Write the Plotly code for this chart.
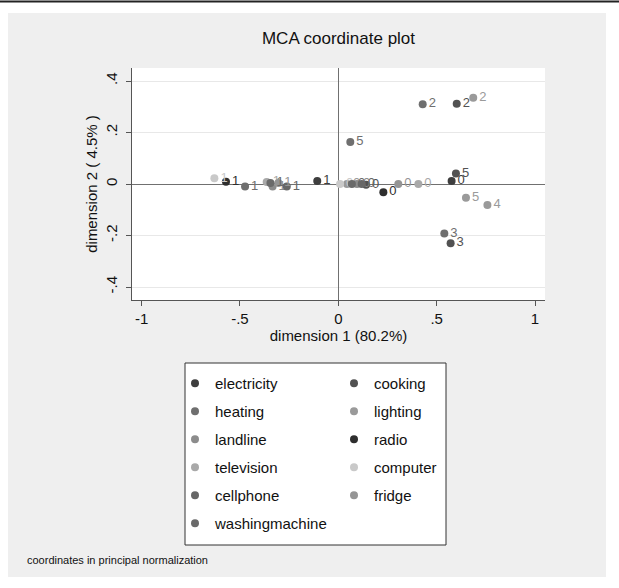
import plotly.graph_objects as go

# MCA category coordinates (principal normalization)
variables = ["electricity", "cooking", "heating", "lighting", "landline", "radio",
             "television", "computer", "cellphone", "fridge", "washingmachine"]
point_var = ["electricity", "electricity",
             "cooking", "cooking", "cooking", "cooking",
             "heating", "heating", "heating", "heating",
             "lighting", "lighting", "lighting", "lighting",
             "landline", "landline",
             "radio", "radio",
             "television", "television",
             "computer", "computer",
             "cellphone", "cellphone",
             "fridge", "fridge",
             "washingmachine", "washingmachine"]
point_cat = ["0", "1",
             "0", "2", "3", "5",
             "1", "2", "3", "5",
             "0", "2", "4", "5",
             "0", "1",
             "0", "1",
             "0", "1",
             "0", "1",
             "0", "1",
             "0", "1",
             "0", "1"]
dim1 = [0.576, -0.107,
        0.141, 0.602, 0.571, 0.598,
        -0.474, 0.429, 0.539, 0.061,
        0.044, 0.686, 0.758, 0.649,
        0.095, -0.334,
        0.229, -0.571,
        0.407, -0.364,
        0.009, -0.630,
        0.119, -0.262,
        0.305, -0.305,
        0.069, -0.345]
dim2 = [0.012, 0.012,
        -0.003, 0.312, -0.230, 0.041,
        -0.010, 0.310, -0.192, 0.163,
        0.000, 0.335, -0.082, -0.053,
        0.000, -0.010,
        -0.032, 0.009,
        0.000, 0.008,
        0.000, 0.022,
        0.000, -0.010,
        0.000, 0.004,
        0.000, 0.004]

x_ticks = [-1, -0.5, 0, 0.5, 1]
x_ticklabels = ["-1", "-.5", "0", ".5", "1"]
y_ticks = [-0.4, -0.2, 0, 0.2, 0.4]
y_ticklabels = ["-.4", "-.2", "0", ".2", ".4"]

# legend columns
legend_left = ["electricity", "heating", "landline", "television", "cellphone", "washingmachine"]
legend_right = ["cooking", "lighting", "radio", "computer", "fridge"]

shades = {
    "electricity": "#3e3e3e", "cooking": "#525252", "heating": "#6f6f6f",
    "lighting": "#9a9a9a", "landline": "#8c8c8c", "radio": "#2e2e2e",
    "television": "#a9a9a9", "computer": "#c9c9c9", "cellphone": "#676767",
    "fridge": "#959595", "washingmachine": "#6a6a6a",
}

FONT = "Liberation Sans, Arial, sans-serif"

W, H = 619, 588
L, R, T, B = 132, 74, 68, 288
PW, PH = W - L - R, H - T - B


def px_x(p):
    return (p - L) / PW


def px_y(p):
    return (H - B - p) / PH


fig = go.Figure()
for v in variables:
    idx = [i for i, name in enumerate(point_var) if name == v]
    fig.add_trace(go.Scatter(
        x=[dim1[i] for i in idx],
        y=[dim2[i] for i in idx],
        text=[point_cat[i] for i in idx],
        mode="markers+text",
        textposition="middle right",
        textfont=dict(family=FONT, size=13, color=shades[v]),
        marker=dict(size=8, color=shades[v], line=dict(width=0)),
        name=v,
        legendgroup=v,
        legend="legend" if v in legend_left else "legend2",
    ))

legend_style = dict(
    orientation="v", xanchor="left", yanchor="top", bgcolor="rgba(0,0,0,0)",
    borderwidth=0, tracegroupgap=5.5, traceorder="grouped",
    font=dict(family=FONT, size=15, color="#111111"),
)

fig.update_layout(
    width=W, height=H,
    margin=dict(l=L, r=R, t=T, b=B),
    paper_bgcolor="white",
    plot_bgcolor="rgba(0,0,0,0)",
    font=dict(family=FONT, color="#111111"),
    title=dict(text="MCA coordinate plot", x=0.5, xref="paper", xanchor="center",
               y=1 - 38 / H, yanchor="middle", font=dict(size=17, color="#111111")),
    showlegend=True,
    legend=dict(x=px_x(175), y=px_y(367), **legend_style),
    legend2=dict(x=px_x(334), y=px_y(367), **legend_style),
    shapes=[
        # light grey panel behind everything
        dict(type="rect", xref="paper", yref="paper", layer="below",
             x0=px_x(8), x1=px_x(606), y0=px_y(577), y1=px_y(13),
             fillcolor="#efefef", line=dict(width=0)),
        # white plot region
        dict(type="rect", xref="paper", yref="paper", layer="below",
             x0=0, x1=1, y0=0, y1=1, fillcolor="white", line=dict(width=0)),
        # legend frame
        dict(type="rect", xref="paper", yref="paper", layer="below",
             x0=px_x(185), x1=px_x(446), y0=px_y(545), y1=px_y(363),
             fillcolor="white", line=dict(color="#333333", width=1)),
        # top rule
        dict(type="line", xref="paper", yref="paper",
             x0=px_x(0), x1=px_x(W), y0=px_y(1.5), y1=px_y(1.5),
             line=dict(color="#222222", width=2)),
    ],
    annotations=[
        dict(text="coordinates in principal normalization", xref="paper", yref="paper",
             x=px_x(25), y=px_y(560), xanchor="left", yanchor="middle", showarrow=False,
             font=dict(family=FONT, size=11, color="#111111")),
    ],
)

fig.update_xaxes(
    range=[-1.0488, 1.0508], tickvals=x_ticks, ticktext=x_ticklabels,
    showgrid=False, zeroline=True, zerolinecolor="#707070", zerolinewidth=1,
    showline=True, linecolor="#555555", linewidth=1,
    ticks="outside", ticklen=5, tickcolor="#555555",
    tickfont=dict(family=FONT, size=15, color="#111111"),
    title=dict(text="dimension 1 (80.2%)", standoff=2,
               font=dict(family=FONT, size=15, color="#111111")),
)
fig.update_yaxes(
    range=[-0.4505, 0.4505], tickvals=y_ticks, ticktext=y_ticklabels, tickangle=-90,
    ticklabelstandoff=3,
    showgrid=True, gridcolor="#e8e8e8", gridwidth=1,
    zeroline=True, zerolinecolor="#707070", zerolinewidth=1,
    showline=True, linecolor="#555555", linewidth=1,
    ticks="outside", ticklen=5, tickcolor="#555555",
    tickfont=dict(family=FONT, size=15, color="#111111"),
    title=dict(text="dimension 2 ( 4.5% )", standoff=1,
               font=dict(family=FONT, size=15, color="#111111")),
)

fig.write_html("out.html")
